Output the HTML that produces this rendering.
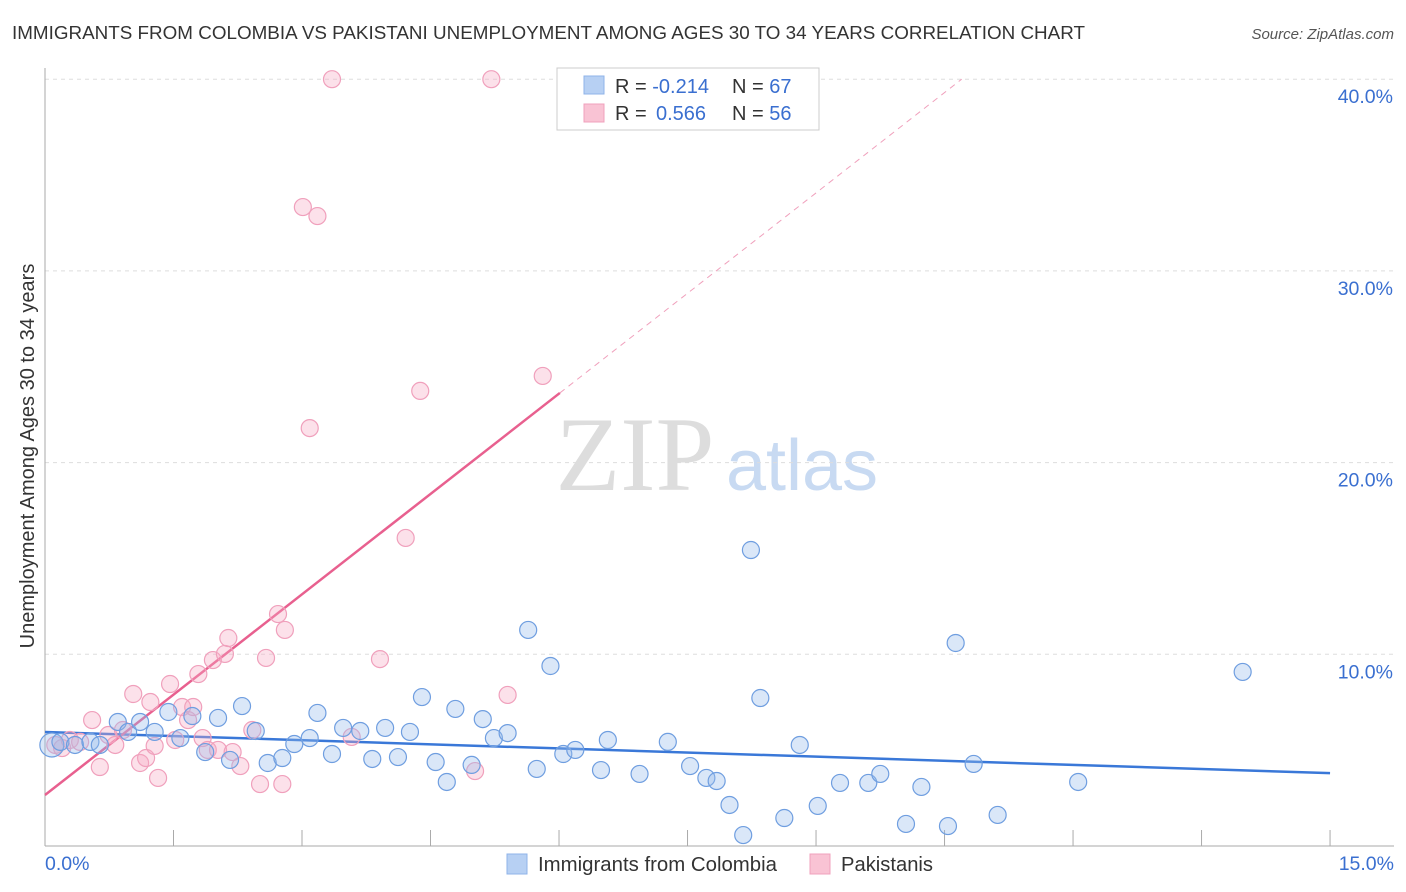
<!DOCTYPE html>
<html><head><meta charset="utf-8"><style>
body{margin:0;background:#fff;font-family:"Liberation Sans",sans-serif}
svg{display:block}
</style></head><body>
<svg id="chart" width="1406" height="892">
<text x="12" y="39" font-size="18.6" fill="#333" textLength="1073" lengthAdjust="spacingAndGlyphs">IMMIGRANTS FROM COLOMBIA VS PAKISTANI UNEMPLOYMENT AMONG AGES 30 TO 34 YEARS CORRELATION CHART</text>
<text x="1394" y="39" font-size="15" fill="#555" font-style="italic" text-anchor="end">Source: ZipAtlas.com</text>
<text x="0" y="0" transform="translate(34,456) rotate(-90)" font-size="20" fill="#333" text-anchor="middle">Unemployment Among Ages 30 to 34 years</text>
<g><text x="635" y="490" font-size="106" font-family="Liberation Serif,serif" fill="#ddd" text-anchor="middle">ZIP</text><text x="802" y="490" font-size="72" fill="#c8daf2" text-anchor="middle">atlas</text></g>
<g id="grid"></g><g id="axes"></g><g id="lines"></g><g id="pts"></g>
<g>
<rect x="557" y="68" width="262" height="62" fill="#fff" stroke="#ccc"/>
<rect x="584" y="76" width="20" height="18" fill="#b7d0f3" stroke="#8fb3e8"/>
<rect x="584" y="104" width="20" height="18" fill="#f9c3d4" stroke="#f0a0bc"/>
<text x="615" y="93" font-size="20" fill="#333">R = <tspan fill="#3a6fd0">-0.214</tspan><tspan x="732">N = </tspan><tspan fill="#3a6fd0">67</tspan></text>
<text x="615" y="120" font-size="20" fill="#333">R = <tspan fill="#3a6fd0" x="656">0.566</tspan><tspan x="732">N = </tspan><tspan fill="#3a6fd0">56</tspan></text>
</g>
<g>
<rect x="507" y="854" width="20" height="20" fill="#b7d0f3" stroke="#8fb3e8"/>
<text x="538" y="871" font-size="20" fill="#333" textLength="239" lengthAdjust="spacingAndGlyphs">Immigrants from Colombia</text>
<rect x="810" y="854" width="20" height="20" fill="#f9c3d4" stroke="#f0a0bc"/>
<text x="841" y="871" font-size="20" fill="#333" textLength="92" lengthAdjust="spacingAndGlyphs">Pakistanis</text>
</g>
</svg>
<script>
const yTicks=[10,20,30,40];
const xTickLabels=["0.0%","15.0%"];
const blueX=[0.08,0.18,0.35,0.53,0.64,0.85,0.97,1.11,1.28,1.44,1.58,1.72,1.87,2.02,2.16,2.30,2.46,2.60,2.77,2.91,3.09,3.18,3.35,3.48,3.68,3.82,3.97,4.12,4.26,4.40,4.56,4.69,4.79,4.98,5.11,5.24,5.40,5.64,5.74,5.90,6.05,6.19,6.49,6.57,6.94,7.27,7.53,7.72,7.84,7.99,8.15,8.24,8.35,8.63,8.81,9.02,9.28,9.61,9.75,10.05,10.23,10.54,10.63,10.84,11.12,12.06,13.98];
const blueY=[5.27,5.43,5.27,5.43,5.27,6.47,5.95,6.47,5.95,6.99,5.63,6.78,4.90,6.68,4.49,7.30,6.00,4.33,4.59,5.32,5.63,6.94,4.80,6.16,6.00,4.54,6.16,4.64,5.95,7.77,4.38,3.34,7.15,4.23,6.62,5.63,5.89,11.27,4.02,9.39,4.80,5.01,3.96,5.53,3.76,5.43,4.17,3.55,3.39,2.14,0.57,15.44,7.72,1.46,5.27,2.09,3.29,3.29,3.76,1.15,3.08,1.04,10.59,4.28,1.62,3.34,9.08];
const pinkX=[0.12,0.20,0.29,0.41,0.55,0.64,0.74,0.82,0.91,1.03,1.11,1.18,1.23,1.28,1.32,1.46,1.52,1.60,1.67,1.73,1.79,1.84,1.90,1.96,2.02,2.10,2.14,2.19,2.28,2.42,2.51,2.58,2.72,2.77,2.80,3.01,3.09,3.18,3.35,3.58,3.91,4.21,4.38,5.02,5.21,5.40,5.81];
const pinkY=[5.27,5.11,5.53,5.43,6.57,4.12,5.79,5.27,6.05,7.93,4.33,4.59,7.51,5.22,3.55,8.45,5.53,7.25,6.57,7.25,8.97,5.63,5.01,9.70,5.01,10.02,10.85,4.90,4.17,6.05,3.23,9.81,12.10,3.23,11.27,33.33,21.80,32.86,40.0,5.69,9.75,16.07,23.74,3.91,40.0,7.88,24.52];
const blueLine=[5.95,3.8];
const pinkLine=[2.66,6.01,10.7];
const NS="http://www.w3.org/2000/svg";
const X=v=>45+v*85.67, Y=v=>846-v*19.17;
function mk(tag,attrs,parent){const e=document.createElementNS(NS,tag);for(const k in attrs)e.setAttribute(k,attrs[k]);document.getElementById(parent).appendChild(e);return e;}
yTicks.forEach(t=>{
 const g=mk('line',{x1:45,x2:1394,y1:Y(t),y2:Y(t),stroke:'#ddd','stroke-dasharray':'4,4'},'grid');
 
 
 const l=mk('text',{x:1393,y:Y(t)+24,'font-size':19.5,fill:'#3a6fd0','text-anchor':'end'},'axes');
 l.textContent=t.toFixed(1)+'%';
 
 
});
const ax=mk('line',{x1:45,x2:45,y1:68,y2:846,stroke:'#aaa'},'axes');


const bx=mk('line',{x1:45,x2:1394,y1:846,y2:846,stroke:'#aaa'},'axes');


for(let i=0;i<=10;i++){const t=mk('line',{x1:X(i*1.5),x2:X(i*1.5),y1:830,y2:846,stroke:'#aaa'},'axes');
 
 }
xTickLabels.forEach((s,i)=>{const t=mk('text',{x:i?1394:45,y:870,'font-size':19.5,fill:'#3a6fd0','text-anchor':i?'end':'start'},'axes');t.textContent=s;
 
 });
const bl=mk('line',{x1:X(0),y1:Y(blueLine[0]),x2:X(15),y2:Y(blueLine[1]),stroke:'#3a78d8','stroke-width':2.5},'lines');


const slope=(40-pinkLine[0])/pinkLine[2];
const pl=mk('line',{x1:X(0),y1:Y(pinkLine[0]),x2:X(pinkLine[1]),y2:Y(pinkLine[0]+slope*pinkLine[1]),stroke:'#e8608f','stroke-width':2.5},'lines');


const pd=mk('line',{x1:X(pinkLine[1]),y1:Y(pinkLine[0]+slope*pinkLine[1]),x2:X(pinkLine[2]),y2:Y(40),stroke:'#f0a0bc','stroke-width':1,'stroke-dasharray':'6,5'},'lines');


pinkX.forEach((x,i)=>{const c=mk('circle',{cx:X(x),cy:Y(pinkY[i]),r:8.5,fill:'rgba(246,170,196,0.35)',stroke:'#f0a0bc','stroke-width':1.2},'pts');
 
 });
blueX.forEach((x,i)=>{const c=mk('circle',{cx:X(x),cy:Y(blueY[i]),r:i==0?12:8.5,fill:'rgba(150,185,235,0.35)',stroke:'#6f9ee0','stroke-width':1.2},'pts');
 
 });
</script>
</body></html>
